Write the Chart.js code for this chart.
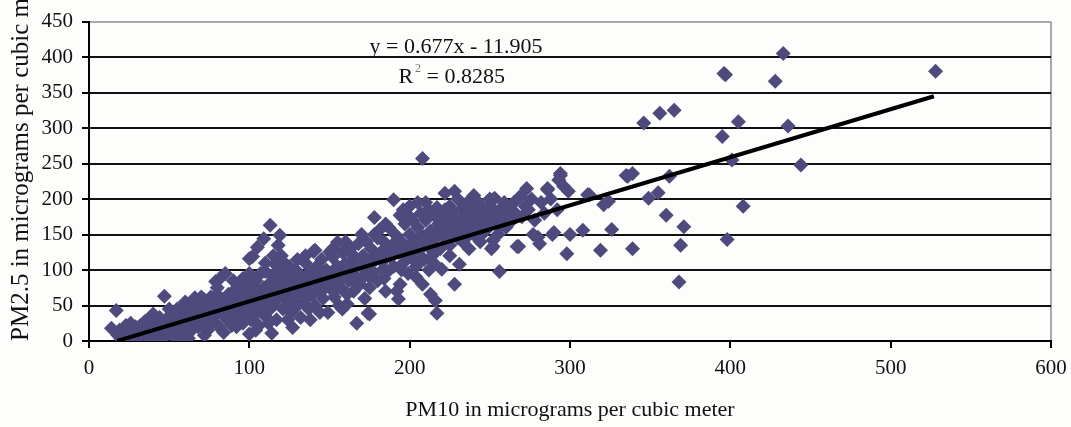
<!DOCTYPE html>
<html>
<head>
<meta charset="utf-8">
<script src="https://cdn.jsdelivr.net/npm/chart.js@4/dist/chart.umd.min.js"></script>
<style>
  html, body { margin: 0; padding: 0; background: #fdfdfb; }
  #wrap { width: 1071px; height: 427px; position: relative; }
</style>
</head>
<body>
<div id="wrap"><canvas id="c" width="1071" height="427"></canvas></div>
<script>
// PM10 vs PM2.5 observations, [pm10, pm25] in micrograms per cubic meter
const lowRange = [
  [17,43],[14,18],[18,8],[20,3],[22,12],[24,6],[25,18],[27,10],[28,2],[30,15],[19,15],[23,22],[26,25],[29,20],
  [31,5],[32,22],[33,12],[35,28],[36,8],[37,18],[38,3],[39,25],[40,14],[41,30],[42,8],[43,20],[44,33],[45,2],
  [46,15],[47,63],[48,26],[49,10],[50,35],[34,16],[38,32],[45,24],
  [51,18],[52,40],[53,6],[54,28],[55,45],[56,14],[57,33],[58,22],[59,48],[60,8],[61,38],[62,25],[63,52],[64,15],
  [65,42],[66,30],[67,55],[68,20],[69,36],[70,48],[55,2],[62,4],[66,61],
  [71,25],[72,58],[73,35],[74,15],[75,45],[76,62],[77,28],[78,52],[79,84],[80,38],[81,20],[82,89],[83,58],[84,42],
  [85,95],[86,30],[87,66],[88,50],[89,22],[90,70],[72,8],[80,65],[88,40],[76,40],[84,12]
];
const midRange = [
  [91,45],[92,60],[93,32],[94,75],[95,52],[96,25],[97,68],[98,40],[99,80],[100,116],[100,55],[101,30],[102,119],
  [102,72],[103,45],[104,85],[105,132],[105,60],[106,22],[107,95],[108,50],[109,144],[109,75],[110,35],[110,98],
  [96,88],[100,10],[104,15],[92,20],[98,64],
  [111,62],[112,80],[113,163],[113,45],[114,11],[114,70],[115,90],[116,55],[117,30],[118,100],[119,149],[119,65],
  [120,82],[121,112],[121,45],[122,95],[123,58],[124,75],[125,105],[126,40],[127,19],[127,88],[128,65],[129,100],
  [130,50],[112,25],[116,108],[124,30],[118,135],[115,120],
  [131,70],[132,33],[133,90],[134,55],[135,110],[136,78],[137,45],[138,98],[139,65],[140,126],[140,85],[141,128],
  [141,50],[142,105],[143,72],[144,92],[145,115],[146,60],[147,82],[148,100],[149,40],[150,75],[135,120],[144,40],[138,30],
  [151,95],[152,118],[153,62],[154,85],[155,139],[155,105],[156,50],[157,75],[158,125],[159,92],[160,110],[161,66],
  [161,52],[162,85],[163,130],[164,100],[165,70],[166,118],[167,25],[167,90],[168,137],[169,80],[170,105],[158,45],
  [164,122],[152,130]
];
const upperRange = [
  [171,120],[172,92],[173,140],[174,39],[174,110],[175,38],[175,75],[176,130],[177,98],[178,174],[178,150],[179,115],
  [180,85],[181,156],[182,125],[183,100],[184,140],[185,70],[186,98],[187,160],[188,118],[189,135],[190,199],[190,105],
  [172,60],[180,145],[184,88],
  [191,150],[192,70],[193,59],[193,125],[194,177],[194,80],[195,140],[196,110],[197,165],[198,130],[199,95],[200,150],
  [201,118],[202,170],[203,140],[204,105],[205,195],[205,160],[206,128],[207,180],[208,257],[208,80],[208,148],[209,115],
  [210,170],[196,185],[200,175],[204,90],
  [211,135],[212,185],[213,66],[213,155],[214,120],[215,178],[216,57],[216,145],[217,188],[217,39],[218,165],[219,130],
  [220,101],[220,175],[221,150],[222,208],[222,185],[223,140],[224,165],[225,120],[226,180],[227,155],[228,211],[228,80],
  [229,170],[230,145],[215,110],[225,190],[212,100],
  [231,108],[231,160],[232,185],[233,140],[234,175],[235,155],[236,195],[237,130],[238,168],[239,185],[240,150],[241,175],
  [242,160],[243,195],[244,140],[245,170],[246,185],[247,155],[248,175],[249,165],[250,190],[251,130],[252,199],[252,142],
  [252,133],[253,201],[254,170],[255,150],[256,98],[256,185],[257,165],[258,175],[259,195],[260,160]
];
const highRange = [
  [262,185],[264,170],[265,195],[266,180],[267,133],[268,133],[269,204],[270,175],[272,190],[273,215],[274,185],[276,200],
  [277,150],[278,170],[280,146],[281,137],[282,195],[284,180],[286,215],[286,213],[288,200],[289,150],[290,153],[292,185],
  [293,227],[294,233],[294,236],[296,218],[298,123],[299,211],[300,150],
  [308,156],[311,206],[312,206],[319,128],[321,192],[324,197],[326,157],[335,233],[336,232],[339,130],[339,236],
  [349,201],[355,209],[360,177],[362,232],[371,161],[369,135],[346,307],[356,321],[365,325],[368,83],
  [395,288],[396,377],[397,375],[398,143],[401,255],[405,309],[408,190],[428,366],[433,405],[436,303],[444,248],[528,380]
];
const coreBand = [
  [20,10],[26,5],[33,20],[40,22],[44,12],[48,18],[52,25],[57,20],[60,30],[64,35],[68,40],[70,32],[73,45],[77,50],
  [80,52],[83,48],[86,55],[90,58],[93,50],[96,62],[100,65],[103,58],[106,70],[110,72],[113,60],[116,78],[120,70],
  [123,85],[126,78],[130,80],[133,75],[136,88],[140,95],[143,82],[146,98],[150,90],[153,100],[156,88],[160,98],
  [163,110],[166,105],[170,118],[173,105],[176,115],[180,120],[183,112],[186,125],[190,122],[193,130],[196,125],
  [200,135],[203,128],[206,140],[210,145],[213,138],[216,155],[220,160],[223,150],[226,165],[230,160],[234,165],
  [238,175],[242,170],[246,178],[250,175],[254,180],[258,185],[262,175],
  [60,18],[75,25],[85,35],[95,35],[105,40],[115,50],[125,55],[135,60],[145,70],[155,75],[165,85],[175,90],[185,95],
  [195,100],[205,110],[215,125],[225,135],[235,145],[245,150],
  [40,38],[50,45],[60,55],[70,62],[80,75],[90,85],[100,95],[110,110],[120,120],[130,115],[150,125],[160,140],
  [170,150],[185,165],[200,190],[210,195],[230,200],[240,205],[250,200]
];

// Linear fit reported on the chart
const fitSlope = 0.677;
const fitIntercept = -11.905;
const fitR2 = 0.8285;
const fitXRange = [17.6, 527];

const xTicks = [0, 100, 200, 300, 400, 500, 600];
const yTicks = [0, 50, 100, 150, 200, 250, 300, 350, 400, 450];

const observations = [...lowRange, ...midRange, ...upperRange, ...highRange, ...coreBand]
  .map(([x, y]) => ({ x, y }));
const fitPoints = fitXRange.map(x => ({ x, y: fitSlope * x + fitIntercept }));

const SERIF = "'Liberation Serif', 'Times New Roman', serif";
const MARKER = '#4f4a7e';
const GRIDGRAY = '#a9a9a9';

const fitLabel = {
  id: 'fitLabel',
  afterDatasetsDraw(chart) {
    const { ctx, scales: { x, y } } = chart;
    ctx.save();
    ctx.fillStyle = '#111';
    ctx.textBaseline = 'middle';
    ctx.textAlign = 'left';
    ctx.font = `22px ${SERIF}`;
    const eq = `y = ${fitSlope}x - ${Math.abs(fitIntercept).toFixed(3)}`;
    ctx.fillText(eq, x.getPixelForValue(175), y.getPixelForValue(414));
    const rx = x.getPixelForValue(193);
    const ry = y.getPixelForValue(372);
    ctx.fillText('R', rx, ry);
    const rw = ctx.measureText('R').width;
    ctx.font = `12px ${SERIF}`;
    ctx.fillStyle = '#777';
    ctx.fillText('2', rx + rw + 2, ry - 8);
    ctx.fillStyle = '#111';
    ctx.font = `22px ${SERIF}`;
    ctx.fillText(` = ${fitR2}`, rx + rw + 8, ry);
    ctx.restore();
  }
};

new Chart(document.getElementById('c'), {
  type: 'scatter',
  data: {
    datasets: [
      {
        type: 'line',
        data: fitPoints,
        borderColor: '#000',
        borderWidth: 4,
        pointRadius: 0,
        fill: false,
        order: 0
      },
      {
        data: observations,
        pointStyle: 'rectRot',
        pointRadius: 7.5,
        pointHoverRadius: 7.5,
        backgroundColor: MARKER,
        borderColor: MARKER,
        borderWidth: 0,
        order: 1
      }
    ]
  },
  plugins: [fitLabel],
  options: {
    responsive: false,
    animation: false,
    events: [],
    layout: { padding: { top: 15, right: 20, left: 0, bottom: 0 } },
    plugins: { legend: { display: false }, tooltip: { enabled: false } },
    scales: {
      x: {
        type: 'linear',
        min: 0, max: 600,
        afterBuildTicks: s => { s.ticks = xTicks.map(v => ({ value: v })); },
        afterFit: s => { s.height = 86; s.paddingLeft = 0; s.paddingRight = 0; },
        border: { color: '#000', width: 2 },
        grid: {
          drawOnChartArea: true,
          color: c => (c.tick && c.tick.value === 600 ? GRIDGRAY : 'rgba(0,0,0,0)'),
          lineWidth: 2,
          tickColor: '#000',
          tickLength: 7
        },
        ticks: { color: '#111', font: { family: SERIF, size: 21 }, padding: 8, maxRotation: 0 },
        title: {
          display: true,
          text: 'PM10 in micrograms per cubic meter',
          color: '#111',
          font: { family: SERIF, size: 22 },
          padding: { top: 0, bottom: 4 }
        }
      },
      y: {
        type: 'linear',
        min: 0, max: 450,
        afterBuildTicks: s => { s.ticks = yTicks.map(v => ({ value: v })); },
        afterFit: s => { s.width = 89; },
        border: { color: '#000', width: 2 },
        grid: {
          color: c => (c.tick && c.tick.value === 450 ? GRIDGRAY : '#111'),
          lineWidth: 2,
          tickColor: '#000',
          tickLength: 7
        },
        ticks: { color: '#111', font: { family: SERIF, size: 21 }, padding: 9 },
        title: {
          display: true,
          align: 'start',
          text: 'PM2.5 in micrograms per cubic meter',
          color: '#111',
          font: { family: SERIF, size: 25 },
          padding: { top: 6, bottom: 0 }
        }
      }
    }
  }
});
</script>
</body>
</html>
